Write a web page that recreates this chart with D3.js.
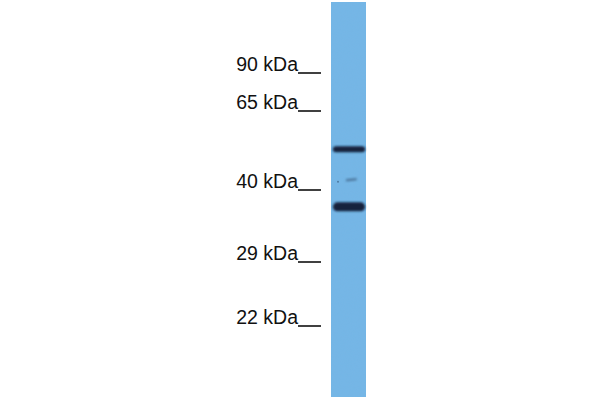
<!DOCTYPE html>
<html>
<head>
<meta charset="utf-8">
<script src="https://cdn.jsdelivr.net/npm/d3@7"></script>
<style>
  body { margin: 0; background: #fff; }
  text { font-family: "Liberation Sans", Arial, sans-serif; }
</style>
</head>
<body>
<div id="blot"></div>
<script>
// Marker ladder (kDa) and where each one sits on the membrane
var markerKda = [90, 65, 40, 29, 22];
var markerLabels = ["90 kDa", "65 kDa", "40 kDa", "29 kDa", "22 kDa"];
var markerY = [73, 111, 190, 262, 326];

// Bands detected in the lane (apparent size, darkness 0..1, thickness, relative width)
var bandKda = [51.4, 42.6, 37.1];
var bandStrength = [1.0, 0.5, 1.0];
var bandThick = [6, 1.8, 9];
var bandWidth = [0.92, 0.32, 0.92];

var width = 600, height = 400;

var svg = d3.select("#blot")
  .append("svg")
    .attr("width", width)
    .attr("height", height);

var defs = svg.append("defs");

// soft edges for bands
defs.append("filter")
    .attr("id", "soft")
    .attr("x", "-20%").attr("y", "-100%")
    .attr("width", "140%").attr("height", "300%")
  .append("feGaussianBlur")
    .attr("stdDeviation", "0.9 0.8");

// grainy membrane texture
var grain = defs.append("filter").attr("id", "grain");
grain.append("feTurbulence")
    .attr("type", "fractalNoise")
    .attr("baseFrequency", 0.9)
    .attr("numOctaves", 2)
    .attr("seed", 3);
grain.append("feColorMatrix")
    .attr("values", "0 0 0 0 0.25  0 0 0 0 0.45  0 0 0 0 0.75  0 0 0 0.15 0");
grain.append("feComposite")
    .attr("in2", "SourceGraphic")
    .attr("operator", "in");

// polylinear log scale calibrated on the ladder
var y = d3.scaleLog()
    .domain(markerKda)
    .range(markerY);

// lane
var lane = {x0: 331, x1: 366, y0: 2, y1: 397};
var xl = d3.scaleLinear().domain([0, 1]).range([lane.x0, lane.x1]);

svg.append("rect")
    .attr("x", xl(0))
    .attr("y", lane.y0)
    .attr("width", xl(1) - xl(0))
    .attr("height", lane.y1 - lane.y0)
    .attr("fill", "#73b6e6");

svg.append("rect")
    .attr("x", xl(0))
    .attr("y", lane.y0)
    .attr("width", xl(1) - xl(0))
    .attr("height", lane.y1 - lane.y0)
    .attr("fill", "#73b6e6")
    .attr("filter", "url(#grain)");

// bands
var bands = bandKda.map(function(d, i) {
  return {kda: d, s: bandStrength[i], t: bandThick[i], w: bandWidth[i], faint: bandWidth[i] < 0.5};
});

var dark = d3.interpolateRgb("#73b6e6", "#14223c");
var laneW = xl(1) - xl(0);

svg.append("g")
  .selectAll("rect")
  .data(bands)
  .enter()
  .append("rect")
    .attr("x", function(d) { return d.faint ? xl(0.42) : xl(0.5) - laneW * d.w / 2 + 0.5; })
    .attr("y", function(d) { return y(d.kda) - d.t / 2; })
    .attr("width", function(d) { return laneW * d.w; })
    .attr("height", function(d) { return d.t; })
    .attr("rx", function(d) { return d.t / 2; })
    .attr("fill", function(d) { return dark(d.s); })
    .attr("transform", function(d) {
      return d.faint ? "rotate(-6," + xl(0.57) + "," + y(d.kda) + ")" : null;
    })
    .attr("filter", "url(#soft)");

// small speck left of the faint band
svg.append("circle")
    .attr("cx", xl(0.2))
    .attr("cy", y(bandKda[1]) + 2)
    .attr("r", 1)
    .attr("fill", dark(0.4));

// ladder labels and ticks
var marks = svg.append("g")
  .selectAll("g")
  .data(markerKda)
  .enter()
  .append("g")
    .attr("transform", function(d) { return "translate(0," + y(d) + ")"; });

marks.append("text")
    .attr("x", 298)
    .attr("y", -2)
    .attr("text-anchor", "end")
    .attr("font-size", 19.5)
    .attr("fill", "#111")
    .text(function(d, i) { return markerLabels[i]; });

marks.append("line")
    .attr("x1", 298)
    .attr("x2", 321)
    .attr("y1", 0)
    .attr("y2", 0)
    .attr("stroke", "#111")
    .attr("stroke-width", 1.6);
</script>
</body>
</html>
